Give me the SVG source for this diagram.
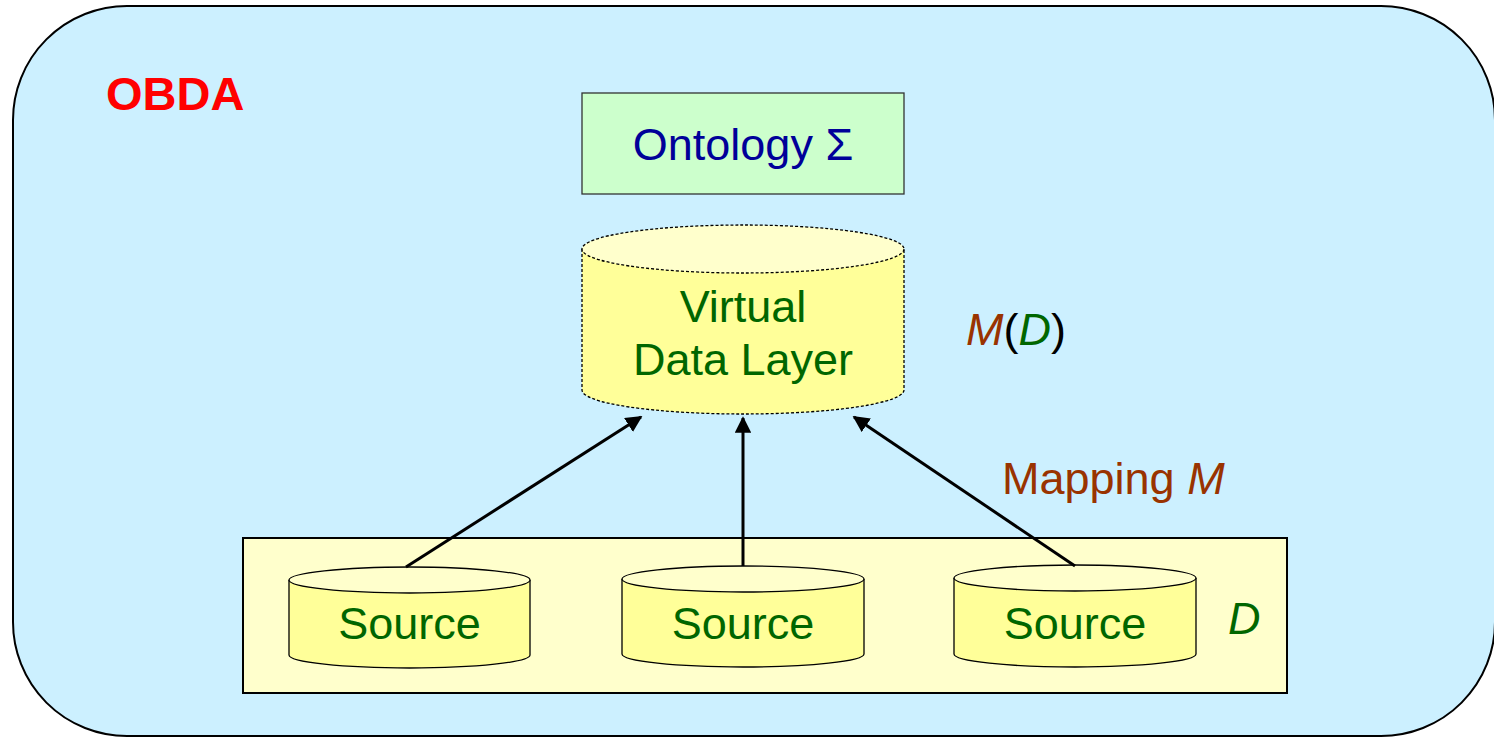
<svg xmlns="http://www.w3.org/2000/svg" width="1494" height="738" viewBox="0 0 1494 738">
<style>
text{font-family:"Liberation Sans",Arial,sans-serif;font-size:45px}
.g{fill:#006600}
.br{fill:#993300}
.cyl{fill:#FFFF99;stroke:#000;stroke-width:1.3}
.cyltop{fill:#FFFFCC;stroke:#000;stroke-width:1.3}
.conn{stroke:#000;stroke-width:3;fill:none}
</style>
<defs>
<marker id="ah" viewBox="0 0 10 10" refX="9" refY="5" markerWidth="5.5" markerHeight="5.5" orient="auto" markerUnits="strokeWidth">
<path d="M0,0 L10,5 L0,10 z" fill="#000"/>
</marker>
</defs>
<rect width="1494" height="738" fill="#fff"/>
<g id="obda">
<rect x="13" y="6" width="1482" height="730" rx="114" ry="114" fill="#CCF0FF" stroke="#000" stroke-width="2"/>
<text x="106" y="110" font-weight="bold" fill="#FF0000" style="font-size:47px">OBDA</text>
</g>
<g id="ontology">
<rect x="582" y="93" width="322" height="101" fill="#CCFFCC" stroke="#333" stroke-width="1.3"/>
<text x="743" y="160" text-anchor="middle" fill="#000099">Ontology Σ</text>
</g>
<g id="virtual">
<path d="M582,249 L582,390 A161,24 0 0 0 904,390 L904,249" fill="#FFFF99" stroke="#000" stroke-width="1.3" stroke-dasharray="3,2"/>
<ellipse cx="743" cy="249" rx="161" ry="24" fill="#FFFFCC" stroke="#000" stroke-width="1.3" stroke-dasharray="3,2"/>
<text x="743" y="322" text-anchor="middle" class="g">Virtual</text>
<text x="743" y="375" text-anchor="middle" class="g">Data Layer</text>
</g>
<g id="md">
<text x="966" y="345"><tspan class="br" font-style="italic">M</tspan><tspan fill="#000">(</tspan><tspan class="g" font-style="italic">D</tspan><tspan fill="#000">)</tspan></text>
</g>
<g id="mapping">
<text x="1002" y="494" class="br">Mapping <tspan font-style="italic">M</tspan></text>
</g>
<g id="sources">
<rect x="243" y="538" width="1044" height="155" fill="#FFFFCC" stroke="#000" stroke-width="2"/>
<text x="1228" y="634" class="g" font-style="italic">D</text>
</g>
<g id="source1">
<path class="cyl" d="M289,580 L289,655 A120.5,13 0 0 0 530,655 L530,580"/>
<ellipse class="cyltop" cx="409.5" cy="580" rx="120.5" ry="13"/>
<text x="409.5" y="639" text-anchor="middle" class="g">Source</text>
</g>
<g id="source2">
<path class="cyl" d="M622,579 L622,654 A121,13 0 0 0 864,654 L864,579"/>
<ellipse class="cyltop" cx="743" cy="579" rx="121" ry="13"/>
<text x="743" y="639" text-anchor="middle" class="g">Source</text>
</g>
<g id="source3">
<path class="cyl" d="M954,578 L954,654 A121,13 0 0 0 1196,654 L1196,578"/>
<ellipse class="cyltop" cx="1075" cy="578" rx="121" ry="13"/>
<text x="1075" y="639" text-anchor="middle" class="g">Source</text>
</g>
<g id="connectors">
<line class="conn" x1="406" y1="567" x2="641" y2="417" marker-end="url(#ah)"/>
<line class="conn" x1="743" y1="566" x2="743" y2="418" marker-end="url(#ah)"/>
<line class="conn" x1="1075" y1="566" x2="854" y2="417" marker-end="url(#ah)"/>
</g>
</svg>
